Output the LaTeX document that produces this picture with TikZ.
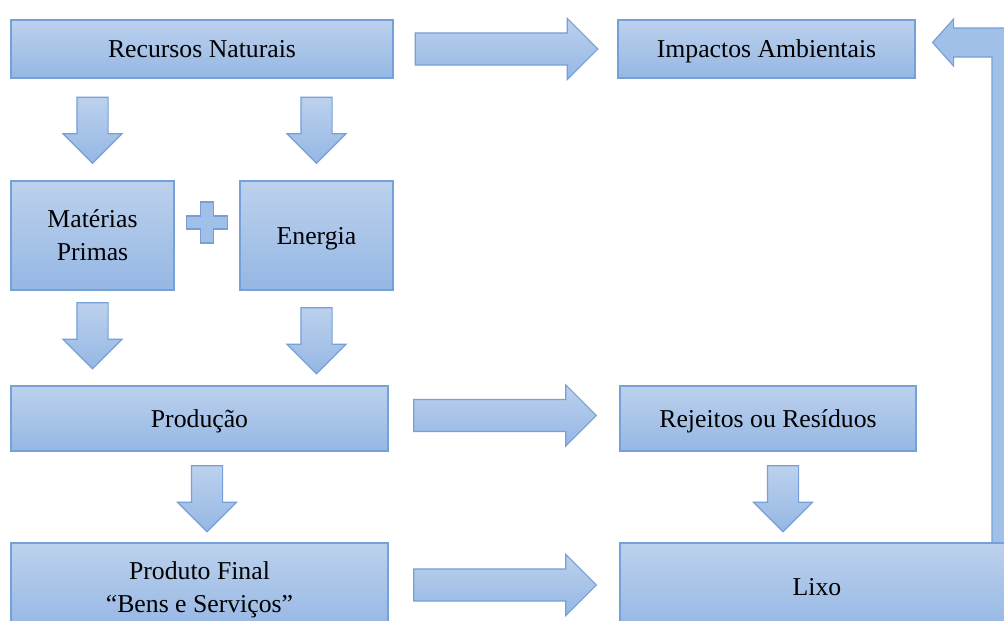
\documentclass[tikz,border=0pt]{standalone}
\usepackage{fontspec}
\setmainfont{Liberation Serif}
\usetikzlibrary{shapes.arrows,calc,positioning}

\definecolor{boxtop}{RGB}{188,209,237}
\definecolor{boxbot}{RGB}{149,183,228}
\definecolor{boxmid}{RGB}{160,192,232}
\definecolor{boxline}{RGB}{118,160,216}

\tikzset{
  caixa/.style={draw=boxline, line width=0.9pt, top color=boxtop, bottom color=boxbot,
    font=\fontsize{19.3}{24.75}\selectfont, align=center, inner sep=0pt, text depth=0pt},
  seta/.style={single arrow, draw=boxline, line width=0.9pt, inner xsep=0pt,
    top color=boxtop, bottom color=boxbot,
    single arrow tip angle=90, single arrow head indent=0pt},
  setabaixo/.style={seta, rotate=-90, inner ysep=11.25pt,
    minimum height=49.5pt, single arrow head extend=10.5pt},
  setadir/.style={seta, inner ysep=11.6pt,
    minimum height=137pt, single arrow head extend=10.9pt},
  setacurva/.style={draw=boxline, line width=0.9pt, fill=boxmid},
}

\begin{document}
\begin{tikzpicture}[x=0.75pt, y=-0.75pt]
\clip (0,0) rectangle (1004,621);
\fill[white] (0,0) rectangle (1004,621);

% caixas
\node[caixa, minimum width=286.5pt, minimum height=43.5pt] (rn) at (202,49) {Recursos Naturais};
\node[caixa, minimum width=222.75pt, minimum height=43.5pt] (ia) at (766.5,49) {Impactos Ambientais};
\node[caixa, minimum width=122.25pt, minimum height=81.75pt] (mp) at (92.5,235.5) {Matérias\\Primas};
\node[caixa, minimum width=114.75pt, minimum height=81.75pt] (en) at (316.5,235.5) {Energia};
\node[caixa, minimum width=282.75pt, minimum height=48.75pt] (pr) at (199.5,418.5) {Produção};
\node[caixa, minimum width=222pt, minimum height=48.75pt] (rr) at (768,418.5) {Rejeitos ou Resíduos};
\node[caixa, minimum width=282.75pt, minimum height=66pt] (pf) at (199.5,587) {Produto Final\\“Bens e Serviços”};

% seta de volta
\coordinate (tip) at ($(ia.east)+(17,-6.5)$);
\coordinate (cauda) at (1022,543);
\draw[setacurva] (cauda) |- ($(tip)+(21,-14.5)$) -- ++(0,-9) -- (tip) -- ++(21,23.5)
  -- ++(0,-9) -| ($(cauda)+(-30,0)$) -- cycle;

\node[caixa, minimum width=295.5pt, minimum height=66pt] (lx) at (817,587) {Lixo};

% setas
\node[setabaixo] (d1) at ($(mp.north)!.5!(rn.south -| mp.north)+(0,-7)$) {};
\node[setabaixo] (d2) at ($(en.north)!.5!(rn.south -| en.north)+(0,-7)$) {};
\node[setabaixo] (d3) at ($(mp.south)!.5!(pr.north -| mp.south)+(0,-10)$) {};
\node[setabaixo] (d4) at ($(en.south)!.5!(pr.north -| en.south)+(0,-5)$) {};
\node[setabaixo] (d5) at ($(pf.north)!.5!(pr.south)+(7.5,-6)$) {};
\node[setabaixo] (d6) at ($(rr.south)!.5!(rr.south |- lx.north)+(15,-6)$) {};
\node[setadir] (a1) at ($(rn.east)!.5!(ia.west)+(-7,0)$) {};
\node[setadir] (a2) at ($(pr.east)!.5!(rr.west)+(-7,-3)$) {};
\node[setadir] (a3) at ($(pf.east)!.5!(lx.west)+(-7,-2)$) {};

% sinal de mais
\coordinate (mais) at ($(mp.east)!.5!(en.west)+(0,-13)$);
\draw[setacurva] ($(mais)+(-6.5,-20.5)$) -- ++(13,0) -- ++(0,14) -- ++(14,0) -- ++(0,13)
  -- ++(-14,0) -- ++(0,14) -- ++(-13,0) -- ++(0,-14) -- ++(-14,0) -- ++(0,-13) -- ++(14,0) -- cycle;
\end{tikzpicture}
\end{document}
